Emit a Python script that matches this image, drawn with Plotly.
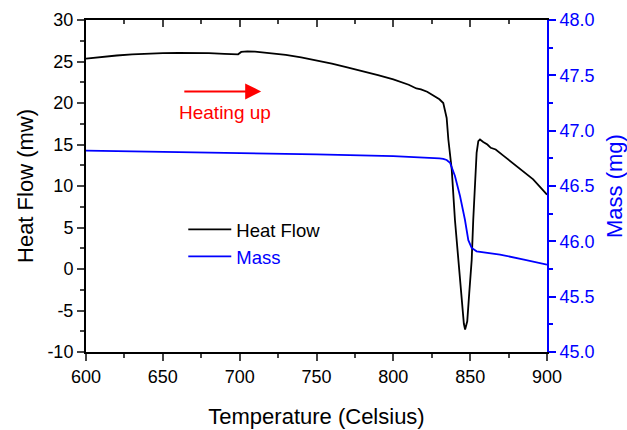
import plotly.graph_objects as go

# Heat flow curve (Temperature in Celsius, heat flow in mW)
hf_temp = [600, 610, 620, 630, 640, 650, 660, 670, 680, 690, 699, 701, 705, 710, 720, 730, 740, 750,
           760, 770, 780, 790, 800, 810, 815, 818, 822, 826, 830, 832.5, 834.7, 835.8, 838, 840.1,
           842.3, 844.4, 845.9, 846.7, 848.1, 849.4, 851, 852, 853.1, 854.2, 855.3, 856.4, 858.5,
           861.2, 863.4, 866.6, 872, 880.2, 891, 900]
hf_vals = [25.35, 25.55, 25.72, 25.85, 25.95, 26.02, 26.05, 26.05, 26.0, 25.93, 25.87, 26.15, 26.22,
           26.18, 26.02, 25.8, 25.5, 25.15, 24.75, 24.3, 23.85, 23.35, 22.85, 22.2, 21.75, 21.65,
           21.35, 20.95, 20.45, 20.0, 18.2, 15.6, 12.0, 5.9, 1.1, -3.7, -6.6, -7.3, -6.3, -2.9,
           1.1, 5.9, 9.9, 14.0, 15.4, 15.6, 15.3, 15.0, 14.6, 14.4, 13.6, 12.4, 10.8, 8.95]

# Mass curve (Temperature in Celsius, mass in mg)
mass_temp = [600, 650, 700, 750, 800, 820, 830, 832.5, 834.7, 836.9, 840.1, 843.4, 846.6, 848.8,
             851, 854.2, 869.4, 885, 900]
mass_vals = [46.82, 46.81, 46.80, 46.785, 46.77, 46.76, 46.75, 46.745, 46.735, 46.71, 46.59, 46.41,
             46.195, 46.01, 45.94, 45.91, 45.88, 45.835, 45.79]

x_range = [600, 900]
hf_range = [-10, 30]
hf_tickvals = [-10, -5, 0, 5, 10, 15, 20, 25, 30]
hf_ticktext = ["-10", "-5", "0", "5", "10", "15", "20", "25", "30"]
mass_range = [45, 48]

FONT = "Arial, 'Liberation Sans', sans-serif"
BLUE = "#0000ff"

fig = go.Figure()
fig.add_trace(go.Scatter(x=hf_temp, y=hf_vals, mode="lines", name="Heat Flow",
                         line=dict(color="black", width=1.8), yaxis="y"))
fig.add_trace(go.Scatter(x=mass_temp, y=mass_vals, mode="lines",
                         name="<span style='color:#0000ff'>Mass</span>",
                         line=dict(color=BLUE, width=1.8), yaxis="y2"))
# invisible trace to activate the top mirror axis
fig.add_trace(go.Scatter(x=[None], y=[None], xaxis="x2", yaxis="y", showlegend=False,
                         hoverinfo="skip"))

fig.update_layout(
    width=627, height=430,
    margin=dict(l=86, r=80, t=20, b=78, autoexpand=False),
    plot_bgcolor="white", paper_bgcolor="white",
    font=dict(family=FONT, size=18, color="black"),
    showlegend=True,
    legend=dict(x=0.211, y=0.425, xanchor="left", yanchor="top", bgcolor="rgba(0,0,0,0)",
                font=dict(size=18.5, color="black"), itemwidth=43, tracegroupgap=0),
    xaxis=dict(range=x_range, dtick=50, ticks="outside", ticklen=7, tickwidth=2, automargin=False,
               showline=True, linewidth=2, linecolor="black", showgrid=False, zeroline=False,
               minor=dict(ticks="outside", ticklen=4, tickwidth=2, dtick=25, showgrid=False),
               title=dict(text="Temperature (Celsius)", font=dict(size=22), standoff=23),
               tickfont=dict(size=18)),
    xaxis2=dict(range=x_range, overlaying="x", side="top", dtick=50, ticks="inside", ticklen=7,
                tickwidth=2, showline=True, linewidth=2, linecolor="black", showgrid=False,
                zeroline=False, showticklabels=False, automargin=False,
                minor=dict(ticks="inside", ticklen=4, tickwidth=2, dtick=25, showgrid=False)),
    yaxis=dict(range=hf_range, tickvals=hf_tickvals, ticktext=hf_ticktext, ticks="outside",
               ticklen=7, tickwidth=2, automargin=False,
               showline=True, linewidth=2, linecolor="black", showgrid=False, zeroline=False,
               minor=dict(ticks="outside", ticklen=4, tickwidth=2, dtick=2.5, showgrid=False),
               title=dict(text="Heat Flow (mw)", font=dict(size=22), standoff=8),
               tickfont=dict(size=18)),
    yaxis2=dict(range=mass_range, overlaying="y", side="right", dtick=0.5, tickformat=".1f",
                ticks="outside", ticklen=7, tickwidth=2, tickcolor=BLUE, automargin=False,
                showline=True, linewidth=2, linecolor=BLUE, showgrid=False, zeroline=False,
                minor=dict(ticks="outside", ticklen=4, tickwidth=2, dtick=0.25, tickcolor=BLUE,
                           showgrid=False),
                title=dict(text="Mass (mg)", font=dict(size=22, color=BLUE), standoff=16),
                tickfont=dict(size=18, color=BLUE)),
)

fig.add_annotation(x=714, y=21.4, ax=663, ay=21.4, xref="x", yref="y", axref="x", ayref="y",
                   text="", showarrow=True, arrowhead=2, arrowsize=1.6, arrowwidth=2,
                   arrowcolor="#ff0000")
fig.add_annotation(x=690.5, y=18.9, xref="x", yref="y", text="Heating up", showarrow=False,
                   font=dict(size=19, color="#ff0000"))

fig.write_html("out.html")
